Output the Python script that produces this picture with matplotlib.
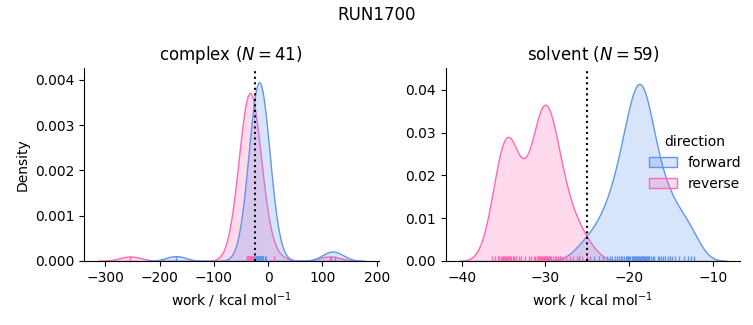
import matplotlib
matplotlib.use("Agg")
import matplotlib.pyplot as plt
import pandas as pd
import seaborn as sns

# work values (kcal/mol)
complex_forward = [-170, 115, 123,
                   -27.0, -25.5, -23.2, -22.6, -22.1, -21.7, -21.3, -20.9, -20.5, -20.1,
                   -19.8, -19.4, -19.0, -18.7, -18.3, -18.0, -17.6, -17.3, -17.0, -16.6,
                   -16.3, -16.0, -15.6, -15.3, -15.0, -14.6, -14.3, -14.0, -13.6, -13.2,
                   -12.8, -12.3, -11.8, -11.2, -10.5, -9.6, -6.0, -4.0]
complex_reverse = [-254, 10, 113,
                   -39.5, -39.0, -38.6, -38.2, -37.8, -37.5, -37.2, -36.9, -36.6, -36.3,
                   -36.0, -35.8, -35.5, -35.3, -35.0, -34.8, -34.5, -34.3, -34.0, -33.8,
                   -33.5, -33.2, -33.0, -32.7, -32.4, -32.1, -31.8, -31.5, -31.2, -30.9,
                   -30.6, -30.3, -30.0, -29.6, -29.2, -28.8, -28.3, -27.6]
solvent_forward = [-26.0, -25.0, -24.2, -23.6, -23.1, -22.7,
                   -22.3, -22.0, -19.05, -21.7, -21.4, -21.2, -21.0, -20.8, -20.6, -20.4,
                   -20.3, -20.2, -20.0, -19.9, -19.7, -19.6, -19.4, -19.3, -19.2, -19.1,
                   -19.0, -18.9, -18.8, -18.7, -18.6, -18.5, -18.4, -18.3, -18.2, -18.1,
                   -18.0, -17.9, -17.8, -17.7, -17.6, -17.4, -17.2, -17.0, -18.45, -16.6,
                   -16.4, -16.2, -16.0, -15.7, -15.4, -15.1,
                   -14.9, -14.5, -14.0, -13.5, -13.0, -12.6, -12.3]
solvent_reverse = [-36.4, -36.0, -35.7, -35.5, -35.3, -35.2, -35.1, -35.0, -34.9, -34.8,
                   -34.7, -34.6, -34.5, -34.4, -34.3, -34.2, -34.1, -33.9, -33.7, -33.5,
                   -33.2, -32.9,
                   -32.5, -32.0, -31.7, -31.4, -31.2, -31.0, -30.9, -30.8, -30.7, -30.6,
                   -30.5, -30.4, -30.3, -30.2, -30.1, -30.0, -29.95, -29.9, -29.8, -29.7,
                   -29.6, -29.5, -29.4, -29.3, -29.1, -28.9, -28.7, -28.5, -28.3, -28.1,
                   -27.9, -27.5, -27.1, -26.7, -26.2, -25.6, -24.7]

# dotted reference line (free energy estimate) per phase
estimates = {"complex": -24, "solvent": -25}
ytop = {"complex": 0.00426, "solvent": 0.0451}

rows = []
for phase, direction, vals in [("complex", "forward", complex_forward),
                               ("complex", "reverse", complex_reverse),
                               ("solvent", "forward", solvent_forward),
                               ("solvent", "reverse", solvent_reverse)]:
    for v in vals:
        rows.append({"phase": phase, "direction": direction, "work": v})
df = pd.DataFrame(rows)

g = sns.displot(data=df, x="work", hue="direction", col="phase", kind="kde",
                fill=True, rug=True,
                hue_order=["forward", "reverse"], col_order=["complex", "solvent"],
                palette={"forward": "cornflowerblue", "reverse": "hotpink"},
                facet_kws=dict(sharex=False, sharey=False))

for ax, phase in zip(g.axes.flat, ["complex", "solvent"]):
    n = len(df[(df.phase == phase) & (df.direction == "forward")])
    ax.set_title(f"{phase} ($N = {n}$)")
    ax.axvline(estimates[phase], color="k", linestyle=":", linewidth=1.5)
    ax.set_xlabel("work / kcal mol$^{-1}$")
    ax.set_ylim(0, ytop[phase])

g.axes.flat[0].set_ylabel("Density")

fig = g.figure
fig.suptitle("RUN1700")
fig.set_size_inches(7.53, 3.25)
fig.subplots_adjust(left=0.1116, right=0.983, bottom=0.197, top=0.791, wspace=0.228)
sns.move_legend(g, "center left", bbox_to_anchor=(0.845, 0.499), frameon=False)

fig.savefig("out.png", dpi=100)
